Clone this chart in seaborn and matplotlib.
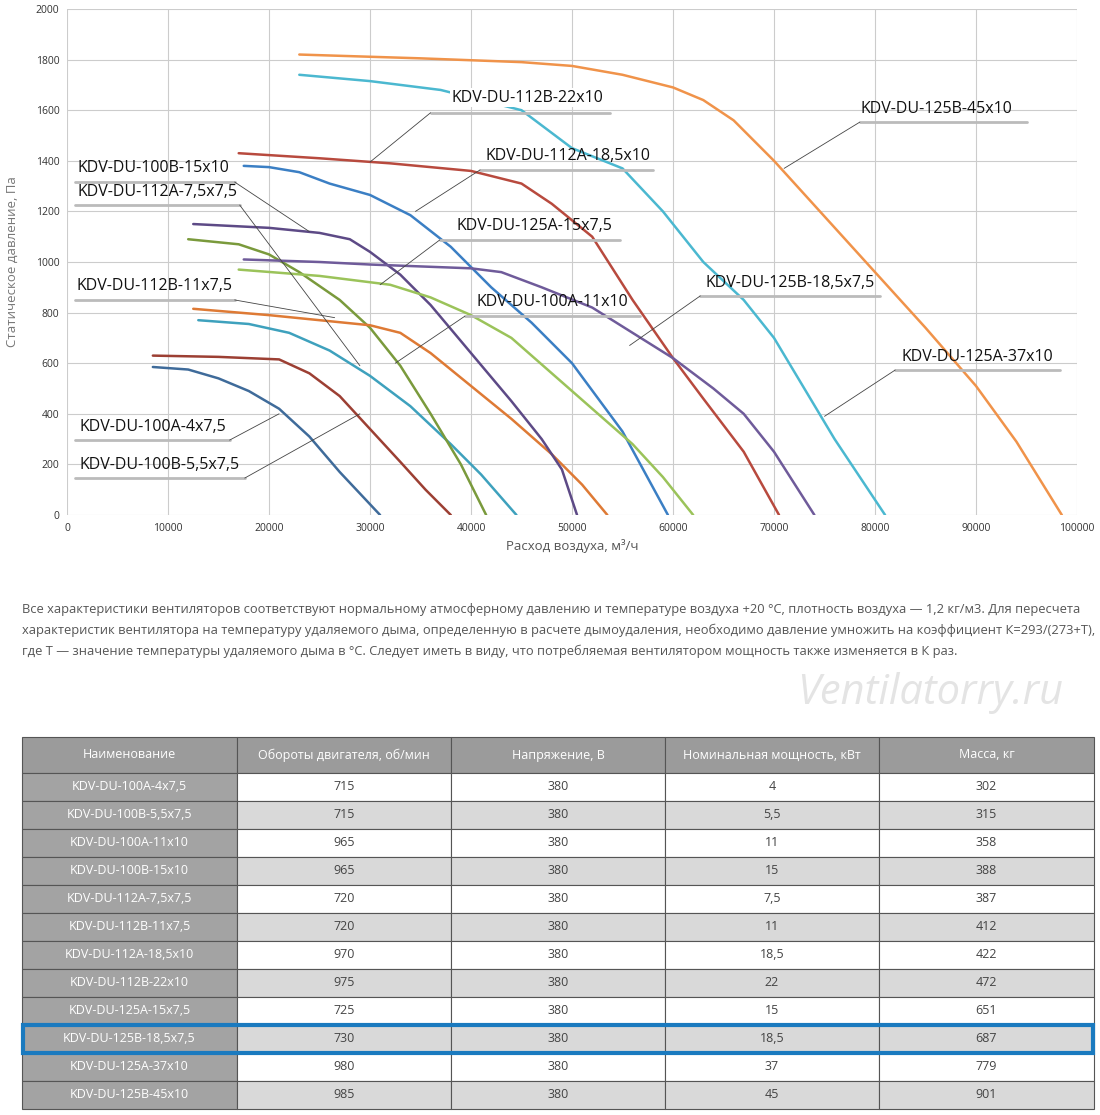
import matplotlib
matplotlib.use('Agg')
import matplotlib.pyplot as plt
import pandas as pd
import seaborn as sns
from matplotlib.patches import Rectangle

sns.set_style('whitegrid')
plt.rcParams['font.family'] = ['Open Sans', 'DejaVu Sans']

# fan curves: (flow m3/h, pressure Pa)
c_100a_4 = [(8500, 585), (12000, 575), (15000, 540), (18000, 490), (21000, 420), (24000, 310), (27000, 170), (31000, 0)]
c_100b_55 = [(8500, 630), (15000, 625), (21000, 615), (24000, 560), (27000, 470), (30000, 340), (33000, 210), (35500, 100), (38000, 0)]
c_100a_11 = [(13000, 770), (18000, 755), (22000, 720), (26000, 650), (30000, 550), (34000, 430), (38000, 280), (41000, 160), (44500, 0)]
c_100b_15 = [(17500, 1380), (20000, 1375), (23000, 1355), (26000, 1310), (30000, 1265), (34000, 1185), (38000, 1060), (42000, 900),
             (46000, 760), (50000, 600), (55000, 330), (59500, 0)]
c_112a_75 = [(12000, 1090), (17000, 1070), (20000, 1030), (23000, 960), (27000, 850), (30000, 740), (33000, 590), (36000, 400),
             (39000, 200), (41500, 0)]
c_112b_11 = [(12500, 815), (20000, 790), (25000, 770), (30000, 750), (33000, 720), (36000, 640), (40000, 510), (44000, 380),
             (48000, 240), (51000, 120), (53500, 0)]
c_125a_15 = [(12500, 1150), (20000, 1135), (25000, 1115), (28000, 1090), (30000, 1040), (33000, 950), (36000, 830), (40000, 640),
             (44000, 450), (47000, 300), (49000, 180), (50500, 0)]
c_green = [(17000, 970), (25000, 945), (32000, 910), (36000, 860), (40000, 790), (44000, 700), (48000, 560), (52000, 420),
           (56000, 280), (59000, 150), (62000, 0)]
c_112a_185 = [(17000, 1430), (25000, 1410), (32000, 1390), (40000, 1360), (45000, 1310), (48000, 1230), (52000, 1100),
              (56000, 850), (60000, 620), (63000, 460), (67000, 250), (70500, 0)]
c_125b_185 = [(17500, 1010), (25000, 1000), (30000, 990), (40000, 975), (43000, 960), (47000, 900), (52000, 820), (56000, 720),
              (60000, 620), (64000, 500), (67000, 400), (70000, 250), (74000, 0)]
c_cyan = [(23000, 1740), (30000, 1715), (37000, 1680), (45000, 1600), (50000, 1450), (55000, 1370), (59000, 1200),
          (63000, 1000), (67000, 850), (70000, 700), (73000, 500), (76000, 300), (81000, 0)]
c_125b_45 = [(23000, 1820), (35000, 1805), (45000, 1790), (50000, 1775), (55000, 1740), (60000, 1690), (63000, 1640),
             (66000, 1560), (70000, 1400), (75000, 1180), (80000, 960), (85000, 740), (90000, 510), (94000, 290), (98500, 0)]

curves = {'a': c_100a_4, 'b': c_100b_55, 'c': c_100a_11, 'd': c_100b_15, 'e': c_112a_75, 'f': c_112b_11,
          'g': c_125a_15, 'h': c_green, 'i': c_112a_185, 'j': c_125b_185, 'k': c_cyan, 'l': c_125b_45}
colors = {'a': '#3f6b9a', 'b': '#9c3f33', 'c': '#3ea1bd', 'd': '#3b7fc4', 'e': '#7a9a3c', 'f': '#de7a35',
          'g': '#5d4a86', 'h': '#9bc35a', 'i': '#b84a3e', 'j': '#6f5b9a', 'k': '#4bb8d0', 'l': '#f0934a'}

# labels: text, text centre, underline (x0, x1, y), leader end
labels = [
    ('KDV-DU-112B-22x10', (45600, 1650), (36000, 53800, 1590), (30000, 1395)),
    ('KDV-DU-112A-18,5x10', (49600, 1420), (40900, 58000, 1364), (34500, 1200)),
    ('KDV-DU-100B-15x10', (8600, 1370), (800, 16600, 1316), (24000, 1120)),
    ('KDV-DU-112A-7,5x7,5', (9000, 1278), (800, 17100, 1225), (29000, 590)),
    ('KDV-DU-125A-15x7,5', (46300, 1143), (36900, 54800, 1087), (31000, 910)),
    ('KDV-DU-112B-11x7,5', (8700, 905), (800, 16600, 850), (26500, 780)),
    ('KDV-DU-100A-11x10', (48100, 843), (39400, 56700, 786), (32500, 600)),
    ('KDV-DU-125B-18,5x7,5', (71600, 918), (62700, 80500, 866), (55700, 670)),
    ('KDV-DU-125B-45x10', (86100, 1605), (78500, 95000, 1553), (71000, 1370)),
    ('KDV-DU-125A-37x10', (90100, 625), (82000, 98300, 573), (75000, 390)),
    ('KDV-DU-100A-4x7,5', (8500, 349), (800, 16100, 296), (21000, 400)),
    ('KDV-DU-100B-5,5x7,5', (9200, 199), (800, 17600, 146), (29000, 400)),
]

rows = [
    ('KDV-DU-100A-4x7,5', '715', '380', '4', '302'),
    ('KDV-DU-100B-5,5x7,5', '715', '380', '5,5', '315'),
    ('KDV-DU-100A-11x10', '965', '380', '11', '358'),
    ('KDV-DU-100B-15x10', '965', '380', '15', '388'),
    ('KDV-DU-112A-7,5x7,5', '720', '380', '7,5', '387'),
    ('KDV-DU-112B-11x7,5', '720', '380', '11', '412'),
    ('KDV-DU-112A-18,5x10', '970', '380', '18,5', '422'),
    ('KDV-DU-112B-22x10', '975', '380', '22', '472'),
    ('KDV-DU-125A-15x7,5', '725', '380', '15', '651'),
    ('KDV-DU-125B-18,5x7,5', '730', '380', '18,5', '687'),
    ('KDV-DU-125A-37x10', '980', '380', '37', '779'),
    ('KDV-DU-125B-45x10', '985', '380', '45', '901'),
]
header = ['Наименование', 'Обороты двигателя, об/мин', 'Напряжение, В', 'Номинальная мощность, кВт', 'Масса, кг']

W, H = 1100, 1115
fig = plt.figure(figsize=(11, 11.15), dpi=100)
ax = fig.add_axes([67 / W, 1 - 515 / H, 1010 / W, 506 / H])

recs = []
for k, pts in curves.items():
    for i, (x, y) in enumerate(pts):
        recs.append({'curve': k, 'order': i, 'x': x, 'y': y})
df = pd.DataFrame(recs)
sns.lineplot(data=df, x='x', y='y', hue='curve', palette=colors, sort=False, linewidth=1.8, legend=False, ax=ax)

ax.set_xlim(0, 100000)
ax.set_ylim(0, 2000)
ax.set_xticks(range(0, 100001, 10000))
ax.set_yticks(range(0, 2001, 200))
ax.tick_params(labelsize=7.5, colors='#333333', pad=2)
ax.grid(color='#cccccc', linewidth=0.8)
for s in ax.spines.values():
    s.set_visible(False)
ax.set_xlabel('Расход воздуха, м³/ч', fontsize=9.5, color='#555555')
ax.set_ylabel('Статическое давление, Па', fontsize=9.5, color='#777777', labelpad=12)

for text, tp, ul, le in labels:
    bbox = None
    if text == 'KDV-DU-112B-22x10':
        bbox = dict(facecolor='white', edgecolor='none', pad=1)
    ax.text(tp[0], tp[1], text, fontsize=11.5, ha='center', va='center', color='#111111', bbox=bbox, zorder=5)
    ax.plot([ul[0], ul[1]], [ul[2], ul[2]], color='#bbbbbb', linewidth=2, zorder=5)
    sx = ul[0] if abs(ul[0] - le[0]) < abs(ul[1] - le[0]) else ul[1]
    ax.plot([sx, le[0]], [ul[2], le[1]], color='#444444', linewidth=0.6, zorder=5)

para = ('Все характеристики вентиляторов соответствуют нормальному атмосферному давлению и температуре воздуха +20 °С, плотность воздуха — 1,2 кг/м3. Для пересчета\n'
        'характеристик вентилятора на температуру удаляемого дыма, определенную в расчете дымоудаления, необходимо давление умножить на коэффициент К=293/(273+Т),\n'
        'где Т — значение температуры удаляемого дыма в °С. Следует иметь в виду, что потребляемая вентилятором мощность также изменяется в К раз.')
fig.text(22 / W, 1 - 603 / H, para, fontsize=9.3, color='#555555', va='top', linespacing=1.75)
fig.text(930 / W, 1 - 693 / H, 'Ventilatorry.ru', fontsize=30, color='#e4e4e4', style='italic', ha='center', va='center')

# table
tax = fig.add_axes([0, 0, 1, 1])
tax.set_xlim(0, W)
tax.set_ylim(H, 0)
tax.axis('off')
cols = [22, 237, 451, 665, 879, 1094]
top, hh, rh = 737, 36, 28
for j in range(5):
    tax.add_patch(Rectangle((cols[j], top), cols[j + 1] - cols[j], hh, facecolor='#9b9b9b', edgecolor='#555555', linewidth=0.8))
    tax.text((cols[j] + cols[j + 1]) / 2, top + hh / 2, header[j], ha='center', va='center', color='white', fontsize=9)
for i, row in enumerate(rows):
    y0 = top + hh + i * rh
    for j in range(5):
        if j == 0:
            fc, tc = '#a3a3a3', 'white'
        else:
            fc, tc = ('white' if i % 2 == 0 else '#d9d9d9'), '#444444'
        tax.add_patch(Rectangle((cols[j], y0), cols[j + 1] - cols[j], rh, facecolor=fc, edgecolor='#555555', linewidth=0.8))
        tax.text((cols[j] + cols[j + 1]) / 2, y0 + rh / 2, row[j], ha='center', va='center', color=tc, fontsize=9)
hi = [r[0] for r in rows].index('KDV-DU-125B-18,5x7,5')
tax.add_patch(Rectangle((cols[0] + 1, top + hh + hi * rh), cols[-1] - cols[0] - 2, rh, facecolor='none', edgecolor='#1a7abf', linewidth=3))

fig.savefig('out.png', dpi=100)
